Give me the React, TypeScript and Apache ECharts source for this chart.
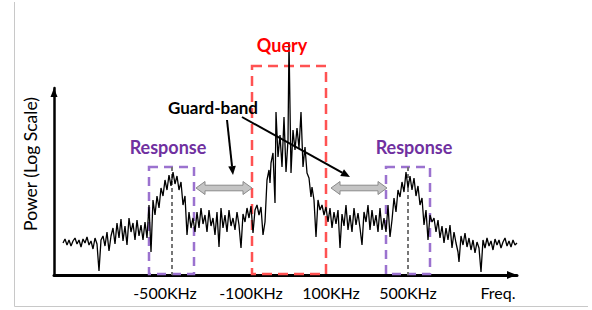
import React, { useEffect, useRef } from "react";
import * as echarts from "echarts";

// Frequency bins (arbitrary schematic units) and power (arbitrary log units)
const freq = [
  9, 11, 13, 15, 17, 19, 21, 23, 25, 27, 29, 31, 33, 35, 37, 39, 41, 43, 45,
  47, 49, 51, 53, 55, 57, 59, 61, 63, 65, 67, 69, 71, 73, 75, 77, 79, 81, 83, 85, 87, 89, 91, 93, 95, 97, 99,
  101, 103, 105, 107, 109, 111, 113, 115, 117, 119, 121, 123, 125, 127, 129, 131, 133, 135, 137, 139, 141, 143,
  145, 147, 149, 151, 153, 155, 157, 159, 161, 163, 165, 167, 169, 171, 173, 175, 177, 179, 181, 183, 185, 187,
  189, 191, 193, 195, 197, 199, 201, 203, 205, 207, 209, 211, 213, 215,
  216, 217, 219, 221, 222, 224, 226, 228, 230, 232, 234, 235, 237, 239, 241, 243, 245, 247, 249, 251, 253, 255,
  257, 258,
  260, 262, 264, 266, 268, 270, 272, 274, 276, 278, 280, 282, 284, 286, 288, 290, 292, 294, 296, 298, 300, 302,
  304, 306, 308, 310, 312, 314, 316, 318, 320, 322, 324, 326, 328, 330, 332, 334, 336, 338, 340, 342, 344, 346,
  348, 350, 352, 354, 356, 358, 360, 362, 364, 366, 368, 370, 372, 374, 376, 378, 380, 382, 384, 386, 388, 390,
  392, 394, 396, 398, 400, 402, 404,
  405, 407, 409, 411, 413, 415, 417, 419, 421, 423, 425, 427, 429, 431, 433, 435, 437, 439, 441, 443, 445, 447,
  449, 451, 453, 455, 457, 459, 461, 463,
];

const power = [
  32, 36, 30, 35, 29, 34, 37, 31, 35, 28, 36, 32, 38, 30, 34, 26, 37, 31, 4,
  35, 39, 29, 43, 24, 39, 47, 31, 52, 37, 56, 34, 49, 30, 57, 43, 52, 35, 55, 39, 50, 35, 53, 37, 70, 23, 75,
  60, 79, 67, 87, 79, 95, 85, 100, 89, 103, 91, 99, 85, 93, 70, 79, 40, 63, 47, 57, 43, 63,
  47, 67, 51, 60, 43, 65, 49, 57, 40, 63, 28, 67, 47, 60, 43, 65, 49, 57, 45, 63, 50, 27,
  61, 53, 67, 57, 69, 42, 65, 70, 60, 68, 40, 53, 95, 105,
  92, 112, 122, 72, 163, 118, 140, 108, 158, 103, 135, 233, 102, 145, 125, 147, 127, 163, 108, 128, 102, 97,
  78, 88,
  75, 38, 75, 65, 70, 60, 68, 53, 67, 47, 63, 51, 65, 27, 61, 49, 70, 45, 60, 43, 67, 50,
  62, 47, 30, 63, 53, 70, 45, 65, 49, 60, 43, 67, 45, 57, 43, 70, 38, 55, 77, 63, 85, 78,
  93, 83, 103, 87, 99, 85, 97, 79, 89, 70, 77, 50, 65, 35, 60, 53, 57, 43, 55, 37, 49, 32,
  47, 35, 50, 27, 43, 32, 23,
  13, 39, 30, 42, 28, 37, 25, 35, 22, 33, 27, 3, 35, 27, 37, 29, 34, 25, 36, 30, 35, 27,
  33, 37, 29, 34, 28, 35, 30, 32,
];

const tickValues = [111, 197, 277, 354, 444];
const tickLabels = ["-500KHz", "-100KHz", "100KHz", "500KHz", "Freq."];

// Annotation regions in data units
const queryBand = [198, 272];
const queryTop = 209;
const responseBands = [
  [95, 140],
  [332, 376],
];
const responseTop = 108;
const responseCenters = [118, 354];
const guardBands = [
  [142, 198],
  [277, 333],
];
const guardLevel = 87;
const guardPointers = [
  [[173, 155], [179, 100]],
  [[188, 158], [296, 98]],
];
const labelQuery = { text: "Query", at: [228, 230] };
const labelResponse = [
  { text: "Response", at: [114, 128] },
  { text: "Response", at: [360, 128] },
];
const labelGuard = { text: "Guard-band", at: [159, 168] };
const yTitle = "Power (Log Scale)";

const FONT = "Lato, 'Open Sans', sans-serif";

export default function App() {
  const ref = useRef<HTMLDivElement>(null);

  useEffect(() => {
    if (!ref.current) return;
    const chart = echarts.init(ref.current, undefined, { renderer: "svg" });
    chart.setOption({
      animation: false,
      backgroundColor: "#ffffff",
      grid: { left: 54, right: 75, top: 88, bottom: 35 },
      xAxis: {
        type: "value",
        min: 0,
        max: 463,
        axisLine: {
          show: true,
          lineStyle: { color: "#000", width: 3 },
          symbol: ["none", "triangle"],
          symbolSize: [8, 10],
          symbolOffset: [0, -5],
        },
        axisTick: { show: false },
        splitLine: { show: false },
        axisLabel: {
          customValues: tickValues,
          formatter: (v: number) => {
            const i = tickValues.indexOf(Math.round(v));
            return i >= 0 ? tickLabels[i] : "";
          },
          color: "#000",
          fontSize: 16,
          fontFamily: FONT,
          margin: 9,
        },
      },
      yAxis: {
        type: "value",
        min: 0,
        max: 187,
        axisLine: {
          show: true,
          lineStyle: { color: "#000", width: 2.5 },
          symbol: ["none", "triangle"],
          symbolSize: [7, 9],
          symbolOffset: [0, -4.5],
        },
        axisTick: { show: false },
        splitLine: { show: false },
        axisLabel: { show: false },
      },
      series: [
        {
          type: "line",
          data: freq.map((f, i) => [f, power[i]]),
          showSymbol: false,
          clip: false,
          lineStyle: { color: "#000", width: 1.3 },
          z: 3,
        },
      ],
    });

    const p = (x: number, y: number) =>
      chart.convertToPixel({ gridIndex: 0 }, [x, y]) as number[];

    const g: any[] = [];
    // frame
    g.push({
      type: "polyline",
      shape: { points: [[14.5, 2], [14.5, 306.5], [588, 306.5]] },
      style: { stroke: "#c8c8c8", lineWidth: 1, fill: "none" },
      z: 0,
    });
    // query box
    {
      const a = p(queryBand[0], queryTop);
      const b = p(queryBand[1], 0);
      g.push({
        type: "rect",
        shape: { x: a[0], y: a[1], width: b[0] - a[0], height: b[1] - a[1] - 1 },
        style: { fill: "none", stroke: "#ff5252", lineWidth: 2.5, lineDash: [10, 6] },
        z: 1,
      });
    }
    // response boxes
    responseBands.forEach((band) => {
      const a = p(band[0], responseTop);
      const b = p(band[1], 0);
      g.push({
        type: "rect",
        shape: { x: a[0], y: a[1], width: b[0] - a[0], height: b[1] - a[1] - 1 },
        style: { fill: "none", stroke: "#9b72cf", lineWidth: 2.5, lineDash: [9, 6] },
        z: 1,
      });
    });
    responseCenters.forEach((c) => {
      const a = p(c, responseTop);
      const b = p(c, 0);
      g.push({
        type: "line",
        shape: { x1: a[0], y1: a[1], x2: b[0], y2: b[1] },
        style: { stroke: "#767676", lineWidth: 2, lineDash: [4, 3] },
        z: 1,
      });
    });
    // gray double arrows
    guardBands.forEach((band) => {
      const a = p(band[0], guardLevel);
      const b = p(band[1], guardLevel);
      const y = a[1];
      const x1 = a[0];
      const x2 = b[0];
      const hl = 9;
      const hh = 6.5;
      const sh = 2.8;
      g.push({
        type: "polygon",
        shape: {
          points: [
            [x1, y], [x1 + hl, y - hh], [x1 + hl, y - sh], [x2 - hl, y - sh], [x2 - hl, y - hh],
            [x2, y], [x2 - hl, y + hh], [x2 - hl, y + sh], [x1 + hl, y + sh], [x1 + hl, y + hh],
          ],
        },
        style: { fill: "#c4c4c4", stroke: "#8a8a8a", lineWidth: 1 },
        z: 5,
      });
    });
    // black pointer arrows
    guardPointers.forEach(([s, e]) => {
      const a = p(s[0], s[1]);
      const b = p(e[0], e[1]);
      const dx = b[0] - a[0];
      const dy = b[1] - a[1];
      const len = Math.sqrt(dx * dx + dy * dy);
      const ux = dx / len;
      const uy = dy / len;
      const hl = 9;
      const hw = 3.8;
      const bx = b[0] - ux * hl;
      const by = b[1] - uy * hl;
      g.push({
        type: "line",
        shape: { x1: a[0], y1: a[1], x2: bx, y2: by },
        style: { stroke: "#000", lineWidth: 2 },
        z: 6,
      });
      g.push({
        type: "polygon",
        shape: { points: [[b[0], b[1]], [bx - uy * hw, by + ux * hw], [bx + uy * hw, by - ux * hw]] },
        style: { fill: "#000" },
        z: 6,
      });
    });
    // texts
    const txt = (text: string, at: number[], color: string, size: number, weight: string) => {
      const q = p(at[0], at[1]);
      g.push({
        type: "text",
        x: q[0],
        y: q[1],
        style: {
          text,
          fill: color,
          fontSize: size,
          fontWeight: weight,
          fontFamily: FONT,
          align: "center",
          verticalAlign: "middle",
        },
        z: 10,
      });
    };
    txt(labelQuery.text, labelQuery.at, "#ff0000", 18, "bold");
    labelResponse.forEach((r) => txt(r.text, r.at, "#7030a0", 18, "bold"));
    txt(labelGuard.text, labelGuard.at, "#000000", 17, "bold");
    g.push({
      type: "text",
      x: 30,
      y: 164,
      rotation: Math.PI / 2,
      style: {
        text: yTitle,
        fill: "#000",
        fontSize: 17.5,
        fontFamily: FONT,
        align: "center",
        verticalAlign: "middle",
      },
      z: 10,
    });

    chart.setOption({ graphic: g });

    return () => chart.dispose();
  }, []);

  return (
    <div
      ref={ref}
      style={{ position: "fixed", left: 0, top: 0, width: 592, height: 310 }}
    />
  );
}
